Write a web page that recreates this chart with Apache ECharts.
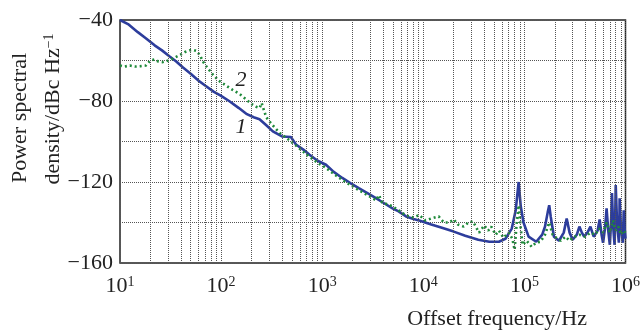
<!DOCTYPE html>
<html>
<head>
<meta charset="utf-8">
<script src="https://cdn.jsdelivr.net/npm/echarts@6/dist/echarts.min.js"></script>
<style>
  html, body { margin: 0; padding: 0; background: #fff; }
  #chart { width: 643px; height: 330px; }
</style>
</head>
<body>
<div id="chart"></div>
<script>
// curve 1 (solid blue)
let freq1 = [10, 12, 15, 18, 22, 26, 31, 36, 42, 50, 60, 70, 85, 100, 120, 150, 180, 210, 240, 280, 325, 400, 490, 550, 650, 750, 900, 1090, 1300, 1580, 1900, 2300, 2800, 3400, 4100, 4960, 5700, 6750, 8000, 9100, 12000, 15000, 20000, 26000, 35000, 45000, 56000, 65000, 75000, 82000, 87700, 92000, 98000, 110000, 131000, 150000, 160000, 170000, 176000, 182000, 196000, 220000, 245000, 262000, 280000, 300000, 330000, 350000, 370000, 390000, 420000, 450000, 470000, 485000, 530000, 555000, 580000, 600000, 630000, 650000, 675000, 700000, 720000, 735000, 755000, 780000, 790000, 800000, 825000, 860000, 870000, 875000, 900000, 940000, 950000, 960000, 980000, 1000000]
let psd1 = [-40, -42, -46, -49, -52.5, -55, -58, -60.5, -63.5, -66.5, -70, -72.5, -75.5, -77.5, -80, -83.5, -86.5, -88, -89, -92, -95, -97.5, -97.8, -101.5, -104, -106.5, -109.5, -111.5, -115, -118, -120.5, -123, -125.5, -128, -130.5, -133, -134.5, -137, -138.3, -139, -141, -142.5, -144.5, -146.5, -148.5, -149.5, -149.5, -148, -143, -134, -120, -132, -140, -147, -149.5, -146, -142, -135, -131.5, -137, -147, -149, -145, -138, -145, -148.5, -146, -142, -145, -147, -145, -142, -145, -147, -144, -138.5, -146, -150, -142, -133, -144, -151, -140, -125.5, -142, -151, -140, -121.5, -140, -150, -140, -128, -142, -150, -143, -134, -143, -148]

// curve 2 (dotted green)
let freq2 = [10, 11, 12.5, 14, 16, 18, 20, 22, 24, 26.5, 29, 31, 35, 39, 44, 49, 53, 57, 62, 66, 73, 83, 95, 113, 130, 152, 175, 200, 225, 240, 252, 265, 280, 300, 325, 380, 450, 550, 650, 750, 900, 1090, 1300, 1580, 1900, 2300, 2800, 3400, 3650, 3900, 4960, 5700, 6750, 8000, 9100, 10500, 12000, 14200, 16000, 18000, 20000, 22000, 25000, 28000, 31000, 35600, 40000, 44000, 47000, 52000, 56000, 62000, 70000, 76000, 80000, 84000, 88000, 92000, 96000, 105000, 118000, 130000, 144000, 160000, 176000, 190000, 205000, 230000, 255000, 280000, 300000, 350000, 400000, 450000, 500000, 550000, 600000, 650000, 700000, 750000, 800000, 850000, 900000, 950000, 1000000]
let psd2 = [-62.5, -63, -62.5, -63, -62.8, -62.5, -60, -59.5, -60.5, -60.8, -60.2, -59.8, -58.5, -57.3, -55.8, -55, -54.8, -55.3, -57.5, -60.5, -63.5, -67, -70, -72.5, -74.5, -76.5, -79, -81.5, -83, -83.5, -81, -84.5, -88, -90, -92, -95.8, -98.5, -102, -105, -107.5, -110.5, -113, -116, -119, -121.5, -124, -126.5, -129, -126.5, -130, -132, -134, -136.5, -137.5, -136.3, -139, -138, -137, -140, -140, -138.5, -141, -142, -140, -139.5, -145, -141.5, -144, -142, -146, -144, -147.5, -145, -148, -153.5, -140, -131.5, -143, -151, -149, -152, -150, -149.5, -146, -140, -146, -147.5, -149, -147, -149, -147.5, -146, -147, -145, -146, -143, -145, -140, -145, -139, -144, -142, -146, -144, -145]

let yTicks = [-160, -120, -80, -40]
let minorGrid = []
for (let d = 10; d < 1e6; d *= 10) {
  for (let k = 2; k <= 9; k++) minorGrid.push(k * d)
}

let serif = 'Liberation Serif'
let chart = echarts.init(document.getElementById('chart'))

let toPairs = (fs, vs) => fs.map((f, i) => [f, vs[i]])

let option = {
  animation: false,
  textStyle: { fontFamily: serif },
  grid: {
    left: 120, top: 20, right: 16, bottom: 67,
    show: true, borderColor: '#222', borderWidth: 1.5
  },
  xAxis: {
    type: 'log', logBase: 10, min: 10, max: 1e6,
    axisLine: { show: false },
    axisTick: { show: false },
    splitLine: { show: true, lineStyle: { color: '#555', type: 'dotted', width: 1 } },
    axisLabel: {
      margin: 12,
      color: '#222',
      fontFamily: serif,
      formatter: v => '{b|10}{s|' + Math.round(Math.log10(v)) + '}',
      rich: {
        b: { fontSize: 22, fontFamily: serif, color: '#222' },
        s: { fontSize: 14, fontFamily: serif, color: '#222', verticalAlign: 'top', padding: [0, 0, 8, 0] }
      }
    }
  },
  yAxis: {
    type: 'value', min: -160, max: -40, interval: 20,
    axisLine: { show: false },
    axisTick: { show: false },
    splitLine: { show: true, lineStyle: { color: '#555', type: 'dotted', width: 1 } },
    axisLabel: {
      margin: 7,
      fontSize: 22,
      color: '#222',
      fontFamily: serif,
      formatter: v => yTicks.indexOf(v) >= 0 ? '\u2212' + Math.abs(v) : ''
    }
  },
  series: [
    {
      name: '1',
      type: 'line',
      data: toPairs(freq1, psd1),
      showSymbol: false,
      lineStyle: { color: '#2d3d9c', width: 2.6 },
      z: 3,
      markLine: {
        silent: true,
        symbol: 'none',
        label: { show: false },
        lineStyle: { color: '#555', type: 'dotted', width: 1 },
        data: minorGrid.map(v => ({ xAxis: v }))
      }
    },
    {
      name: '2',
      type: 'line',
      data: toPairs(freq2, psd2),
      showSymbol: false,
      lineStyle: { color: '#1f8a3a', width: 2.6, type: [2, 3], cap: 'butt' },
      z: 4
    }
  ],
  graphic: [
    {
      type: 'text', x: 20, y: 118, rotation: Math.PI / 2,
      style: { text: 'Power spectral', font: '22px ' + serif, fill: '#222', align: 'center', verticalAlign: 'middle' }
    },
    {
      type: 'text', x: 53, y: 109, rotation: Math.PI / 2,
      style: {
        text: '{b|density/dBc Hz}{s|\u22121}',
        align: 'center', verticalAlign: 'middle',
        rich: {
          b: { fontSize: 22, fontFamily: serif, fill: '#222' },
          s: { fontSize: 14, fontFamily: serif, fill: '#222', verticalAlign: 'top' }
        }
      }
    },
    {
      type: 'text', x: 587, y: 319,
      style: { text: 'Offset frequency/Hz', font: '22px ' + serif, fill: '#222', align: 'right', verticalAlign: 'middle' }
    },
    {
      type: 'text', x: 241, y: 80,
      style: { text: '2', font: 'italic 22px ' + serif, fill: '#222', align: 'center', verticalAlign: 'middle' }
    },
    {
      type: 'text', x: 241, y: 127,
      style: { text: '1', font: 'italic 22px ' + serif, fill: '#222', align: 'center', verticalAlign: 'middle' }
    }
  ]
}
chart.setOption(option)
</script>
</body>
</html>
